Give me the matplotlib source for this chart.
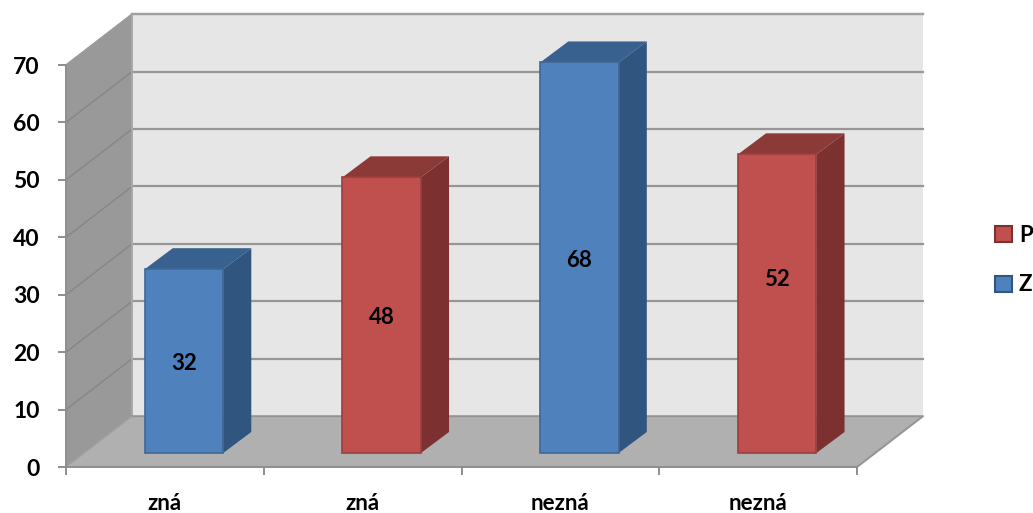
import matplotlib
matplotlib.use("Agg")
import matplotlib.pyplot as plt
from matplotlib.patches import Patch

categories = ["zná", "zná", "nezná", "nezná"]
series = ["Z", "P", "Z", "P"]
values = [32, 48, 68, 52]
yticks = [0, 10, 20, 30, 40, 50, 60, 70]

colors = {
    "Z": {"front": "#4f81bd", "side": "#30557f", "top": "#38618f", "edge": "#3f6797"},
    "P": {"front": "#c0504d", "side": "#7c3130", "top": "#8c3a38", "edge": "#9a403e"},
}

plt.rcParams["font.family"] = ["Lato", "DejaVu Sans"]

fig = plt.figure(figsize=(10.33, 5.13), dpi=100)
ax = fig.add_axes([66 / 1033, (513 - 467) / 513, (857 - 66) / 1033, (467 - 65) / 513])
ax.set_xlim(0, 4)
ax.set_ylim(0, 70)

# depth of the box and of the bars, in data units
dx, dy = 0.334, 8.85
bar_dx, bar_dy = 0.142, 3.66
bar_w = 0.397
base_x, base_y = 0.398, 2.44
wall_line = "#969696"
# the last label sits higher than the middle of its bar
label_shift = {3: 4.7}


def face(xs, ys, color, z, edge="none", lw=0):
    ax.fill(xs, ys, facecolor=color, edgecolor=edge, linewidth=lw, zorder=z, clip_on=False)


# walls and floor
face([dx, 4 + dx, 4 + dx, dx], [dy, dy, 70 + dy, 70 + dy], "#e6e6e6", 1)
face([0, dx, dx, 0], [0, dy, 70 + dy, 70], "#999999", 1)
face([0, 4, 4 + dx, dx], [0, 0, dy, dy], "#b0b0b0", 1)

for t in yticks[1:]:
    ax.plot([dx, 4 + dx], [t + dy, t + dy], color=wall_line, lw=1.6, zorder=2, clip_on=False)
    ax.plot([0, dx], [t, t + dy], color="#868686", lw=1.0, zorder=2, clip_on=False)

# box outlines
ax.plot([dx, 4 + dx], [70 + dy, 70 + dy], color="#a0a0a0", lw=1.6, zorder=2, clip_on=False)
ax.plot([dx, dx], [dy, 70 + dy], color="#a8a8a8", lw=1.4, zorder=2, clip_on=False)
ax.plot([0, dx], [70, 70 + dy], color="#a0a0a0", lw=1.0, zorder=2, clip_on=False)
ax.plot([dx, 4 + dx, 4], [dy, dy, 0], color="#949494", lw=1.4, zorder=2, clip_on=False)
ax.plot([0, dx], [0, dy], color="#a0a0a0", lw=1.0, zorder=2, clip_on=False)

# bars
for i, (s, v) in enumerate(zip(series, values)):
    c = colors[s]
    x0 = i + base_x
    x1 = x0 + bar_w
    y0 = base_y
    y1 = y0 + v
    face([x0, x1, x1 + bar_dx, x0 + bar_dx], [y1, y1, y1 + bar_dy, y1 + bar_dy], c["top"], 3)
    face([x1, x1 + bar_dx, x1 + bar_dx, x1], [y0, y0 + bar_dy, y1 + bar_dy, y1], c["side"], 3)
    face([x0, x1, x1, x0], [y0, y0, y1, y1], c["front"], 4, edge=c["edge"], lw=1.2)
    ax.text((x0 + x1) / 2, y0 + v / 2 + label_shift.get(i, 0) - 0.45, str(v), ha="center", va="center",
            fontsize=16, fontweight="bold", color="black", zorder=5)

# axes, ticks and labels
for name in ["top", "right"]:
    ax.spines[name].set_visible(False)
for name in ["left", "bottom"]:
    ax.spines[name].set_color("#8e8e8e")
    ax.spines[name].set_linewidth(1.4)
    ax.spines[name].set_zorder(3)

ax.set_yticks(yticks)
ax.set_xticks([0, 1, 2, 3, 4])
ax.set_xticklabels([])
ax.tick_params(axis="both", color="#8e8e8e", width=1.4, length=6)
ax.tick_params(axis="y", labelsize=16.5, pad=13, labelcolor="black")
for lab in ax.get_yticklabels():
    lab.set_fontweight("bold")

for i, cat in enumerate(categories):
    ax.annotate(cat, xy=(i + 0.5, 0), xytext=(0, -26), textcoords="offset points",
                xycoords="data", ha="center", va="center", fontsize=16,
                fontweight="bold", annotation_clip=False)

handles = [
    Patch(facecolor=colors["P"]["front"], edgecolor=colors["P"]["side"], linewidth=1.5, label="P"),
    Patch(facecolor=colors["Z"]["front"], edgecolor=colors["Z"]["side"], linewidth=1.5, label="Z"),
]
fig.legend(handles=handles, loc="center left", bbox_to_anchor=(995 / 1033, 1 - 260 / 513),
           frameon=False, prop={"size": 16, "weight": "bold"}, handlelength=0.75,
           handleheight=0.75, handletextpad=0.32, labelspacing=1.3, borderpad=0, borderaxespad=0)

fig.savefig("out.png", dpi=100)
